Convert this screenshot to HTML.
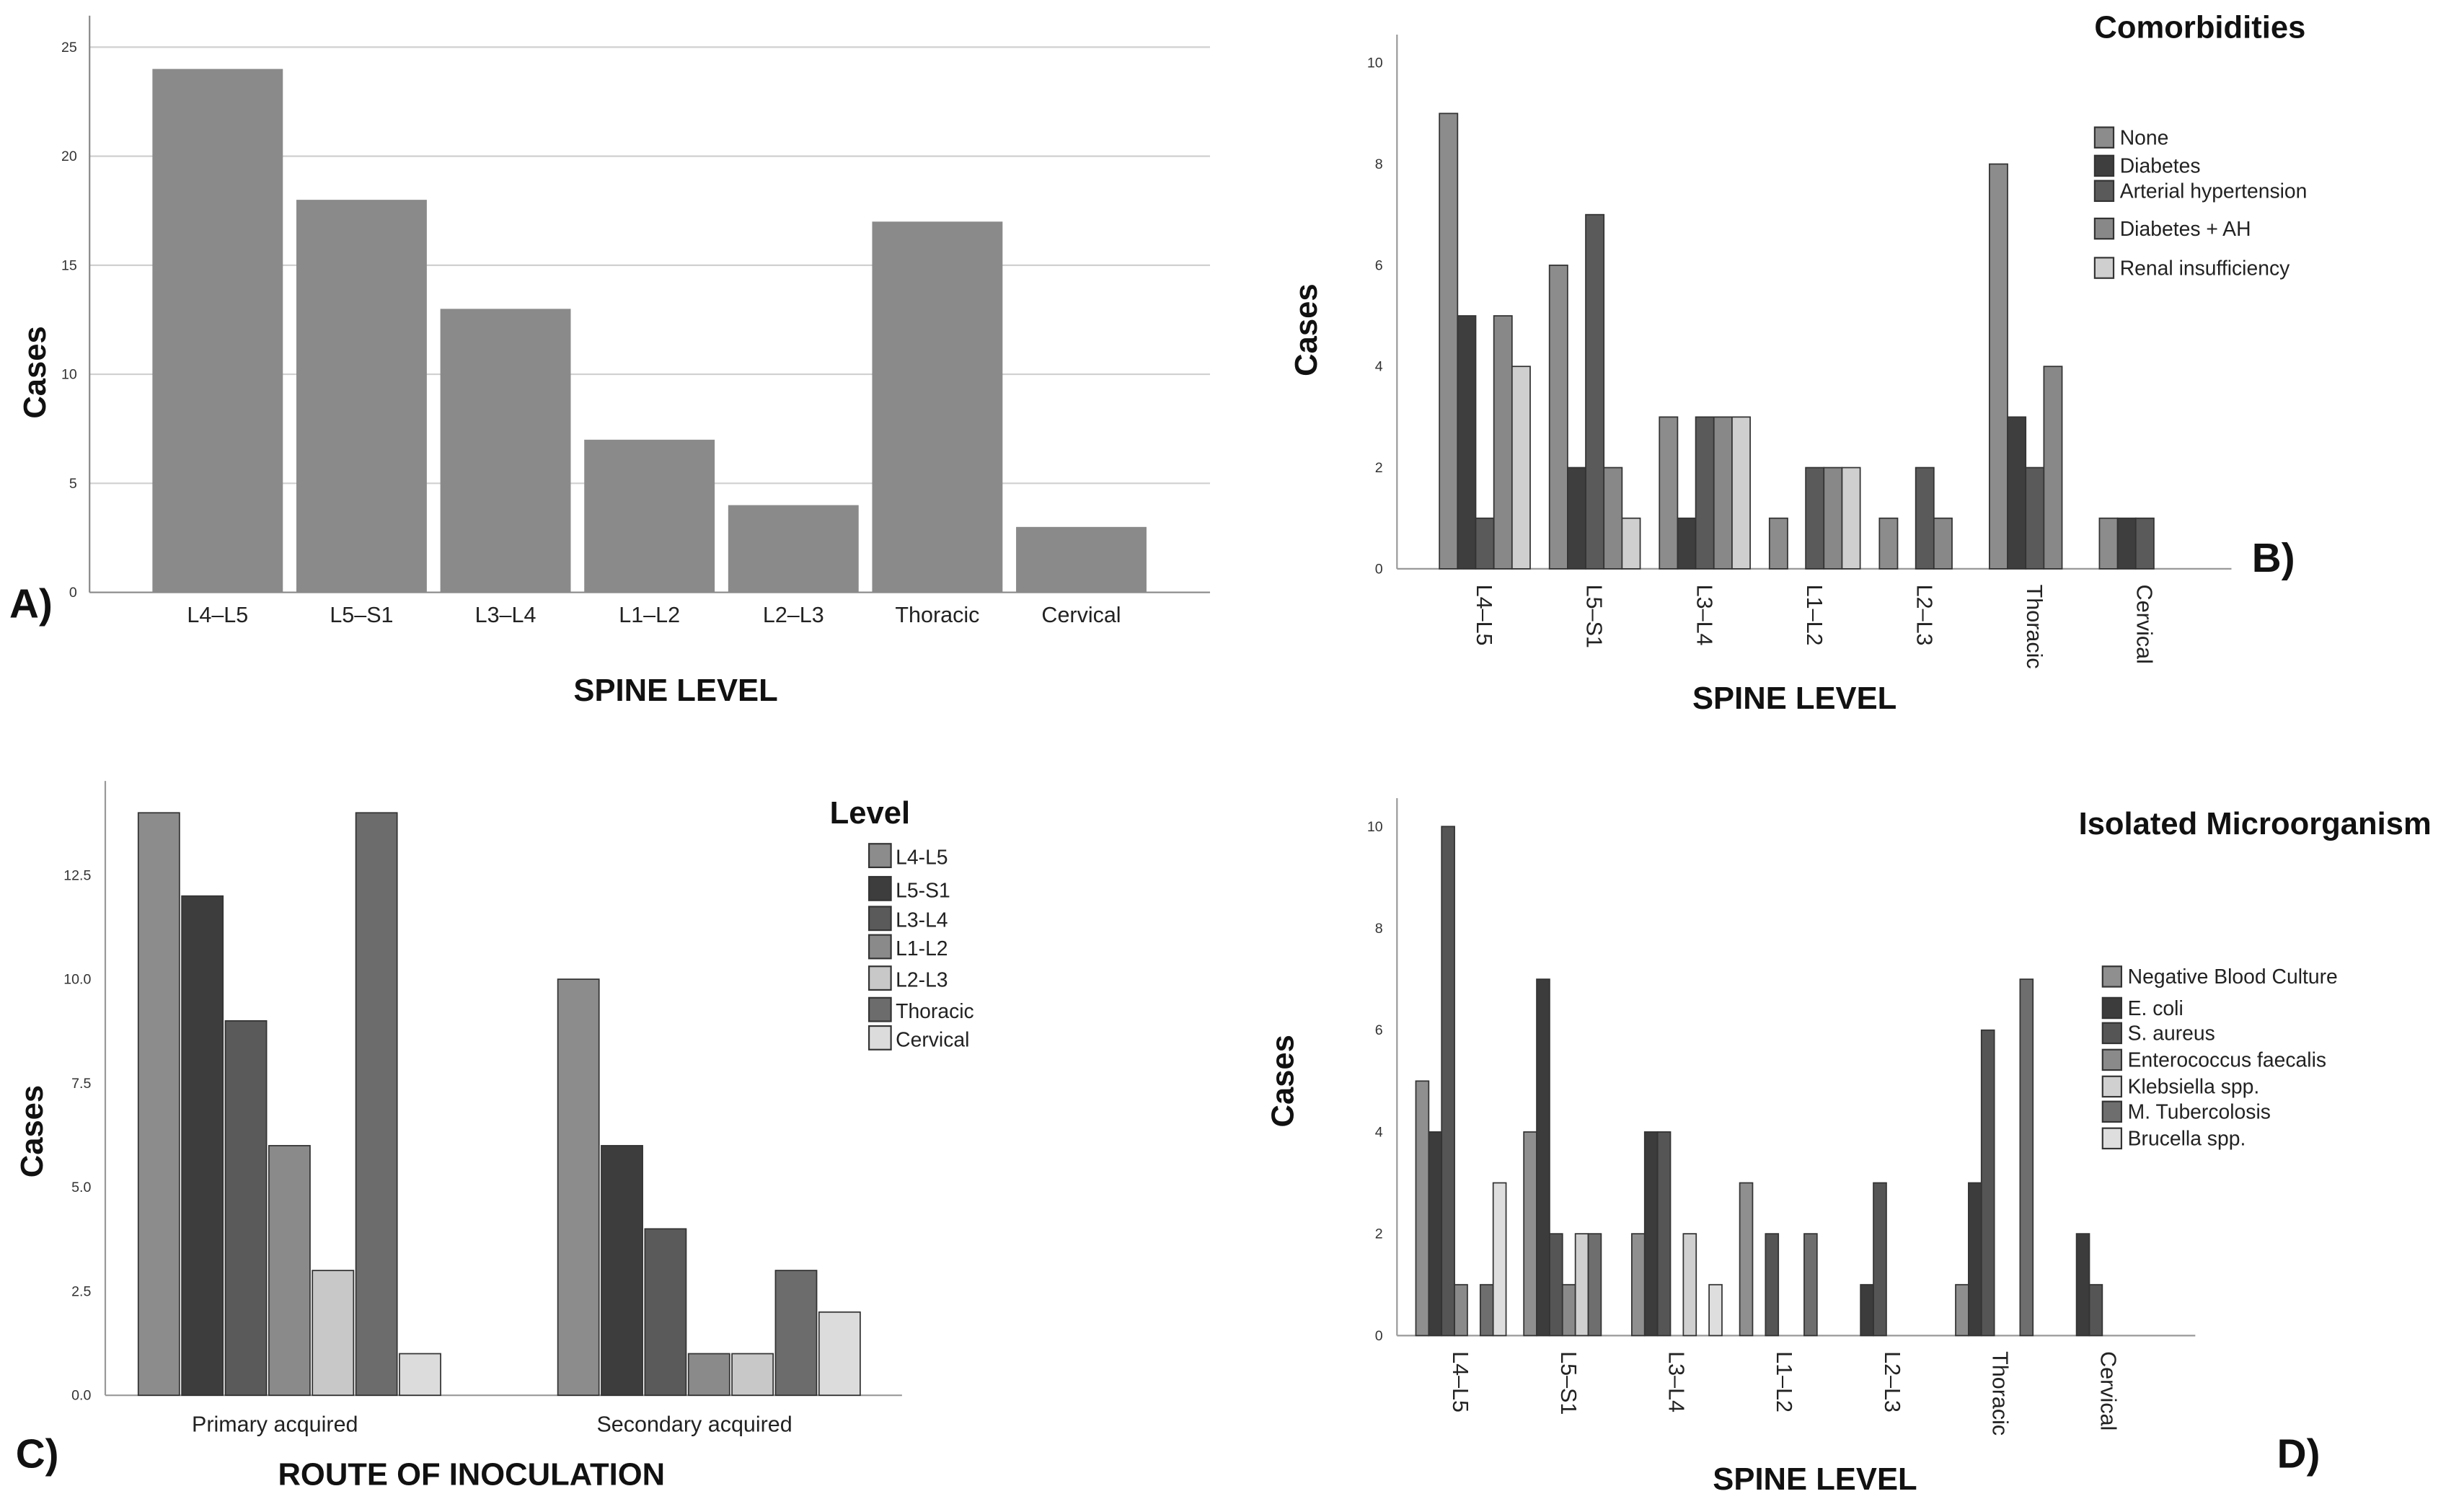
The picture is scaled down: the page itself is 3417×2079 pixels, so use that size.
<!DOCTYPE html>
<html><head><meta charset="utf-8"><style>
html,body{margin:0;padding:0;background:#fff;}
svg{display:block;font-family:"Liberation Sans",sans-serif;}
.t{font-size:9px;fill:#333;}
.cat{font-size:14px;fill:#222;}
.ax{font-size:20px;font-weight:bold;fill:#111;}
.leg{font-size:13px;fill:#222;}
.pl{font-size:26px;font-weight:bold;fill:#111;}
</style></head><body>
<svg id="fig" width="3417" height="2079" viewBox="0 0 1568 954" preserveAspectRatio="none" xmlns="http://www.w3.org/2000/svg"></svg>
<script>
// Panel A
const aCats = ["L4–L5","L5–S1","L3–L4","L1–L2","L2–L3","Thoracic","Cervical"];
const aVals = [24,18,13,7,4,17,3];
const aTicks = [0,5,10,15,20,25];
// Panel B
const bCats = ["L4–L5","L5–S1","L3–L4","L1–L2","L2–L3","Thoracic","Cervical"];
const bSeries = ["None","Diabetes","Arterial hypertension","Diabetes + AH","Renal insufficiency"];
const bNone = [9,6,3,1,1,8,1];
const bDiab = [5,2,1,0,0,3,1];
const bAH = [1,7,3,2,2,2,1];
const bDAH = [5,2,3,2,1,4,0];
const bRenal = [4,1,3,2,0,0,0];
const bTicks = [0,2,4,6,8,10];
// Panel C
const cCats = ["Primary acquired","Secondary acquired"];
const cSeries = ["L4-L5","L5-S1","L3-L4","L1-L2","L2-L3","Thoracic","Cervical"];
const cPrimary = [14,12,9,6,3,14,1];
const cSecondary = [10,6,4,1,1,3,2];
const cTicks = ["0.0","2.5","5.0","7.5","10.0","12.5"];
// Panel D
const dCats = ["L4–L5","L5–S1","L3–L4","L1–L2","L2–L3","Thoracic","Cervical"];
const dSeries = ["Negative Blood Culture","E. coli","S. aureus","Enterococcus faecalis","Klebsiella spp.","M. Tubercolosis","Brucella spp."];
const dNBC = [5,4,2,3,0,1,0];
const dEcoli = [4,7,4,0,1,3,2];
const dSaureus = [10,2,4,2,3,6,1];
const dEntero = [1,1,0,0,0,0,0];
const dKleb = [0,2,2,0,0,0,0];
const dMTB = [1,2,0,2,0,7,0];
const dBrucella = [3,0,1,0,0,0,0];
const dTicks = [0,2,4,6,8,10];

const NS="http://www.w3.org/2000/svg";
const svg=document.getElementById('fig');
function mk(tag,attrs,parent){const e=document.createElementNS(NS,tag);for(const k in attrs)e.setAttribute(k,attrs[k]);(parent||svg).appendChild(e);return e;}
function txt(x,y,s,cls,extra,parent){const e=mk('text',Object.assign({x:x,y:y,class:cls},extra||{}),parent);e.textContent=s;return e;}
function grp(name){const g=mk('g',{});return g;}

// ---------- Panel A ----------
(function(){
  const g=grp('panel-a');
  const x0=57,x1=770,yb=377,yt=30,max=25;
  const y=v=>yb-(v/max)*(yb-yt);
  aTicks.forEach(t=>{
    if(t>0){const l=mk('line',{x1:x0,x2:x1,y1:y(t),y2:y(t),stroke:'#d0d0d0','stroke-width':1},g);}
    const e=txt(x0-8,y(t)+3,String(t),'t',{'text-anchor':'end'},g);
    
  });
  mk('line',{x1:x0,x2:x0,y1:10,y2:yb,stroke:'#888'},g);
  mk('line',{x1:x0,x2:x1,y1:yb,y2:yb,stroke:'#888'},g);
  const step=91.6,w=83,start=97;
  aVals.forEach((v,i)=>{
    const bx=start+i*step;
    const r=mk('rect',{x:bx,y:y(v),width:w,height:yb-y(v),fill:'#8a8a8a'},g);
    
    const e=txt(bx+w/2,396,aCats[i],'cat',{'text-anchor':'middle'},g);
    
  });
  let e=txt(430,446,'SPINE LEVEL','ax',{'text-anchor':'middle'},g);
  e=txt(0,0,'Cases','ax',{'text-anchor':'middle',transform:'translate(29,237) rotate(-90)'},g);
  e=txt(6,393,'A)','pl',{},g);
})();

// generic grouped bar panel
function grouped(name,cfg){
  const g=grp(name);
  const y=v=>cfg.yb-(v/cfg.max)*(cfg.yb-cfg.yt);
  cfg.ticks.forEach(t=>{
    const e=txt(cfg.x0-9,y(parseFloat(t))+3,String(t),'t',{'text-anchor':'end'},g);
    
  });
  mk('line',{x1:cfg.x0,x2:cfg.x0,y1:cfg.axTop,y2:cfg.yb,stroke:'#999'},g);
  mk('line',{x1:cfg.x0,x2:cfg.x1,y1:cfg.yb,y2:cfg.yb,stroke:'#999'},g);
  cfg.cats.forEach((c,i)=>{
    const gx=cfg.start+i*cfg.gstep;
    cfg.series.forEach((arr,j)=>{
      const v=arr[i];
      if(v>0){
        const r=mk('rect',{x:gx+j*cfg.bw,y:y(v),width:cfg.bw,height:cfg.yb-y(v),fill:cfg.colors[j],stroke:'#333','stroke-width':0.8},g);
        
      }
    });
    const cx=gx+cfg.series.length*cfg.bw*(cfg.labelFrac||0.5);
    let e;
    if(cfg.rot){e=txt(0,0,c,'cat',{transform:'translate('+(cx-5)+','+(cfg.yb+10)+') rotate(90)'},g);}
    else{e=txt(cx,cfg.yb+23,c,'cat',{'text-anchor':'middle'},g);}
    
  });
  cfg.names.forEach((n,j)=>{
    const ly=cfg.legY[j];
    const r=mk('rect',{x:cfg.legX,y:ly-10,width:cfg.legW,height:13,fill:cfg.colors[j],stroke:'#333','stroke-width':1},g);
    
    const e=txt(cfg.legX+cfg.legW+4,ly+1,n,'leg',{},g);
    
  });
  return g;
}

// ---------- Panel B ----------
(function(){
  const g=grouped('panel-b',{x0:889,x1:1420,yb:362,yt:40,axTop:22,max:10,ticks:bTicks,cats:bCats,
    series:[bNone,bDiab,bAH,bDAH,bRenal],names:bSeries,
    colors:['#8c8c8c','#3e3e3e','#5a5a5a','#888888','#cfcfcf'],start:916,gstep:70,bw:11.55,rot:true,
    legX:1333,legW:12,legY:[91,109,125,149,174]});
  let e=txt(1400,24,'Comorbidities','ax',{'text-anchor':'middle'},g);
  e=txt(1142,451,'SPINE LEVEL','ax',{'text-anchor':'middle'},g);
  e=txt(0,0,'Cases','ax',{'text-anchor':'middle',transform:'translate(838,210) rotate(-90)'},g);
  e=txt(1433,364,'B)','pl',{},g);
})();

// ---------- Panel C ----------
(function(){
  const cols=['#8c8c8c','#3d3d3d','#5a5a5a','#8a8a8a','#c8c8c8','#6c6c6c','#dcdcdc'];
  const g=grp('panel-c');
  const x0=67,x1=574,yb=888,yt=557,max=12.5;
  const y=v=>yb-(v/max)*(yb-yt);
  cTicks.forEach(t=>{const e=txt(x0-9,y(parseFloat(t))+3,t,'t',{'text-anchor':'end'},g);});
  mk('line',{x1:x0,x2:x0,y1:497,y2:yb,stroke:'#999'},g);
  mk('line',{x1:x0,x2:x1,y1:yb,y2:yb,stroke:'#999'},g);
  const groups=[cPrimary,cSecondary];const starts=[88,355];const bw=27.7;
  groups.forEach((arr,i)=>{
    arr.forEach((v,j)=>{
      const r=mk('rect',{x:starts[i]+j*bw,y:y(v),width:bw-1.5,height:yb-y(v),fill:cols[j],stroke:'#333','stroke-width':0.8},g);
      
    });
    const e=txt(starts[i]+bw*3.5-10,911,cCats[i],'cat',{'text-anchor':'middle'},g);
    
  });
  const legY=[549,570,589,607,627,647,665];
  cSeries.forEach((n,j)=>{
    const r=mk('rect',{x:553,y:legY[j]-12,width:14,height:15,fill:cols[j],stroke:'#333','stroke-width':1},g);
    
    const e=txt(570,legY[j]+1,n,'leg',{},g);
  });
  let e=txt(528,524,'Level','ax',{},g);
  e=txt(300,945,'ROUTE OF INOCULATION','ax',{'text-anchor':'middle'},g);
  e=txt(0,0,'Cases','ax',{'text-anchor':'middle',transform:'translate(27,720) rotate(-90)'},g);
  e=txt(10,934,'C)','pl',{},g);
})();

// ---------- Panel D ----------
(function(){
  const g=grouped('panel-d',{x0:889,x1:1397,yb:850,yt:526,axTop:508,max:10,ticks:dTicks,cats:dCats,
    series:[dNBC,dEcoli,dSaureus,dEntero,dKleb,dMTB,dBrucella],names:dSeries,
    colors:['#8f8f8f','#3c3c3c','#555555','#8a8a8a','#d0d0d0','#6e6e6e','#dedede'],start:901,gstep:68.7,bw:8.2,rot:true,labelFrac:0.5,
    legX:1338,legW:12,legY:[625,645,661,678,695,711,728]});
  let e=txt(1435,531,'Isolated Microorganism','ax',{'text-anchor':'middle'},g);
  e=txt(1155,948,'SPINE LEVEL','ax',{'text-anchor':'middle'},g);
  e=txt(0,0,'Cases','ax',{'text-anchor':'middle',transform:'translate(823,688) rotate(-90)'},g);
  e=txt(1449,934,'D)','pl',{},g);
})();
</script>
</body></html>
